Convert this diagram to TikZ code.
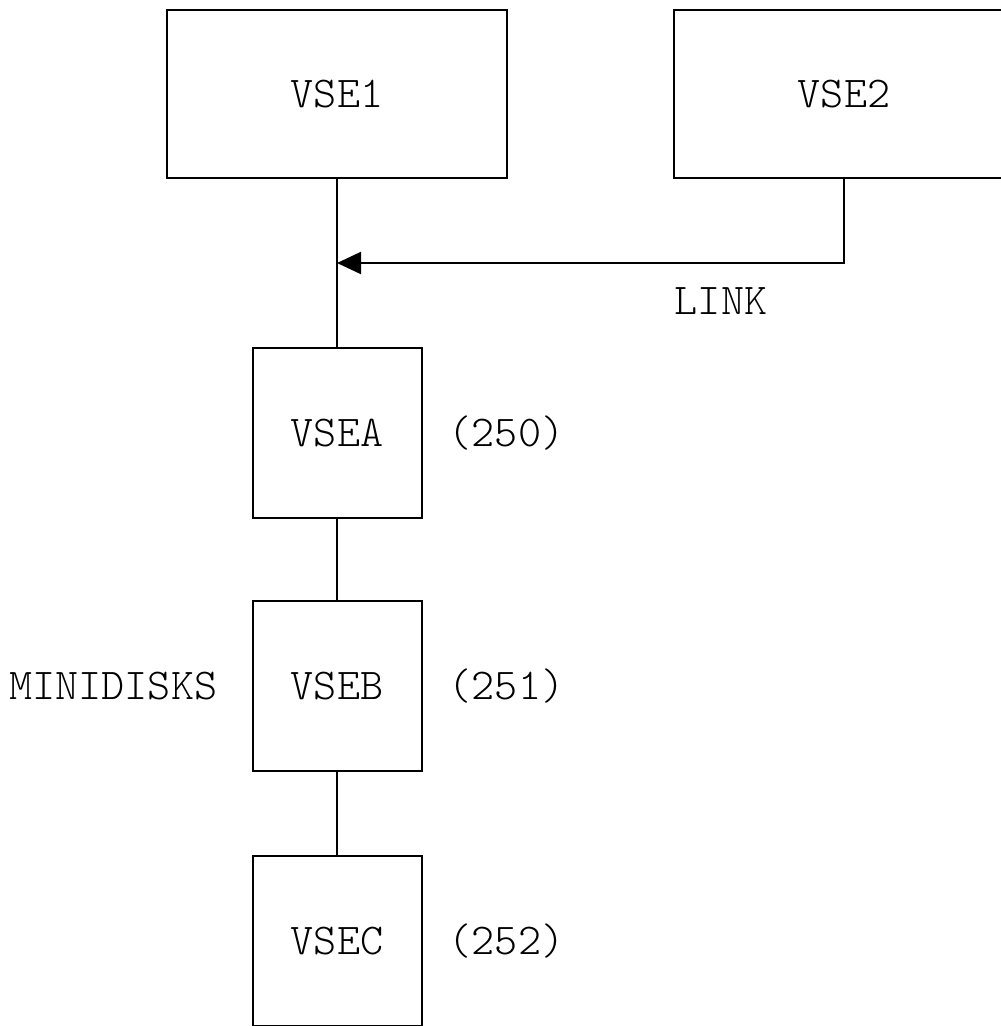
\documentclass[tikz,border=0pt]{standalone}
\usepackage{fontspec}
\usepackage{tikz}
\usetikzlibrary{arrows.meta, positioning}
\newfontfamily\vsefont{Latin Modern Mono Light}
\tikzset{
  vsebox/.style={rectangle, draw=black, line width=2pt, inner sep=0pt,
                 font=\vsefont\fontsize{44}{50}\selectfont},
  bigbox/.style={vsebox, minimum width=340pt, minimum height=168pt},
  diskbox/.style={vsebox, minimum width=169pt, minimum height=170pt},
  tag/.style={inner sep=0pt, font=\vsefont\fontsize{44}{50}\selectfont},
  conn/.style={line width=2pt},
  arr/.style={conn, -{Triangle[length=24pt, width=22pt]}},
}
\begin{document}
\begin{tikzpicture}[x=1pt, y=-1pt]
  \useasboundingbox (0,0) rectangle (1001,1026);
  \clip (0,0) rectangle (1001,1026);
  \node[bigbox]                        (vse1) at (337,94) {VSE1};
  \node[bigbox, right=165pt of vse1]   (vse2) {VSE2};
  \node[diskbox, below=168pt of vse1]  (vsea) {VSEA};
  \node[diskbox, below=81pt of vsea]   (vseb) {VSEB};
  \node[diskbox, below=83pt of vseb]   (vsec) {VSEC};
  \node[tag, right=26pt of vsea]       (n250) {(250)};
  \node[tag, right=26pt of vseb]       (n251) {(251)};
  \node[tag, right=26pt of vsec]       (n252) {(252)};
  \node[tag, left=34pt of vseb]        (mini) {MINIDISKS};
  \node[tag]                           (link) at (721,301) {LINK};
  \coordinate (tap) at (vse1.south |- 0,263);

  \draw[conn] (vse1) -- (vsea);
  \draw[arr]  (vse2) |- (tap);
  \draw[conn] (vsea) -- (vseb);
  \draw[conn] (vseb) -- (vsec);
\end{tikzpicture}
\end{document}
